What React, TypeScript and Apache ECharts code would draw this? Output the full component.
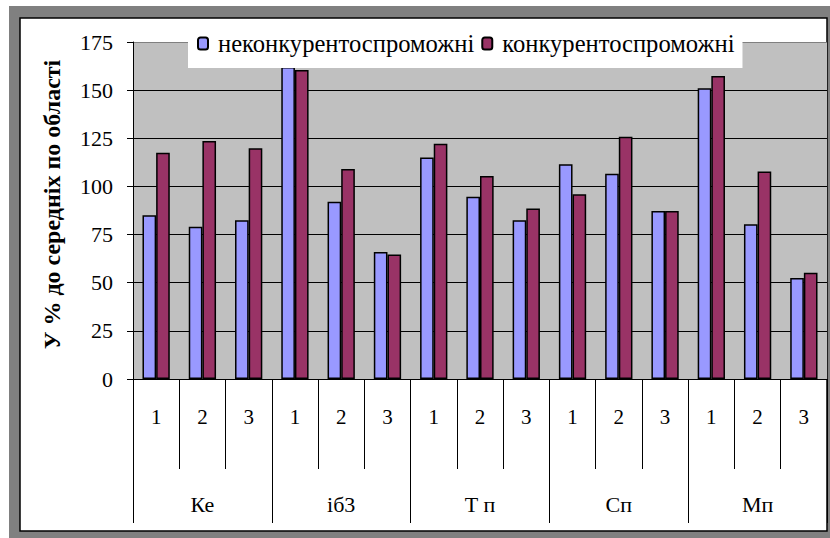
import React, { useEffect, useRef } from "react";
import * as echarts from "echarts";

const groups = ["Ке", "іб3", "Т п", "Сп", "Мп"];
const subLabels = ["1", "2", "3"];
const nonCompetitive = [85, 79, 82.5, 162, 92, 66, 115, 94.7, 82.5, 111.5, 106.6, 87.2, 151, 80.3, 52.4];
const competitive = [117.5, 123.6, 119.8, 160.5, 109, 64.6, 122.2, 105.4, 88.6, 95.9, 125.8, 87.2, 157.3, 107.8, 55.2];
const seriesNames = ["неконкурентоспроможні", "конкурентоспроможні"];
const yTitle = "У % до середніх по області";

const FONT = "Liberation Serif";

export default function App() {
  const ref = useRef<HTMLDivElement>(null);
  useEffect(() => {
    if (!ref.current) return;
    const chart = echarts.init(ref.current, undefined, { renderer: "svg" });
    const cats: string[] = [];
    groups.forEach((g) => subLabels.forEach((s) => cats.push(g + "|" + s)));
    chart.setOption({
      animation: false,
      graphic: [
        { type: "rect", z: -10, silent: true, shape: { x: 9, y: 6, width: 821, height: 532 }, style: { fill: "#808080" } },
        { type: "rect", z: -9, silent: true, shape: { x: 20, y: 18, width: 807, height: 513 }, style: { fill: "#fff", stroke: "#000", lineWidth: 1.5 } },
      ],
      legend: {
        left: 188,
        top: 19,
        padding: [12, 8, 12, 9],
        backgroundColor: "#fff",
        itemWidth: 10,
        itemHeight: 12,
        itemGap: 7,
        textStyle: { fontFamily: FONT, fontSize: 24.6, color: "#000", padding: [0, 0, 0, 5] },
        data: seriesNames,
      },
      grid: {
        left: 133,
        right: 3,
        top: 42,
        bottom: 159,
        show: true,
        backgroundColor: "#C0C0C0",
        borderWidth: 0,
      },
      xAxis: [
        {
          type: "category",
          data: cats,
          position: "bottom",
          axisLine: { show: true, lineStyle: { color: "#000", width: 1 } },
          axisTick: { show: true, length: 90, lineStyle: { color: "#000", width: 1 } },
          axisLabel: {
            interval: 0,
            margin: 27,
            fontFamily: FONT,
            fontSize: 21,
            lineHeight: 22,
            color: "#000",
            formatter: (v: string) => v.split("|")[1],
          },
          splitLine: { show: false },
        },
        {
          type: "category",
          data: groups,
          position: "bottom",
          axisLine: { show: false },
          axisTick: { show: true, length: 144, lineStyle: { color: "#000", width: 1 } },
          axisLabel: { interval: 0, margin: 114, fontFamily: FONT, fontSize: 22, lineHeight: 22, color: "#000" },
          splitLine: { show: false },
        },
      ],
      yAxis: {
        type: "value",
        min: 0,
        max: 175,
        interval: 25,
        name: yTitle,
        nameLocation: "middle",
        nameRotate: 90,
        nameGap: 69,
        nameMoveOverlap: false,
        nameTextStyle: { fontFamily: FONT, fontSize: 24, fontWeight: "bold", color: "#000", padding: [0, 0, 0, 12] },
        axisLine: { show: true, lineStyle: { color: "#000", width: 1 } },
        axisTick: { show: true, length: 6, lineStyle: { color: "#000" } },
        axisLabel: { margin: 20, fontFamily: FONT, fontSize: 22, color: "#000" },
        splitLine: {
          show: true,
          lineStyle: { color: ["#000", "#000", "#000", "#000", "#000", "#000", "#000", "#808080"], width: 1 },
        },
      },
      series: [
        {
          name: seriesNames[0],
          type: "bar",
          data: nonCompetitive,
          barGap: "0%",
          barCategoryGap: "41%",
          itemStyle: { color: "#9999FF", borderColor: "#000", borderWidth: 1.5 },
        },
        {
          name: seriesNames[1],
          type: "bar",
          data: competitive,
          barGap: "0%",
          barCategoryGap: "41%",
          itemStyle: { color: "#993366", borderColor: "#000", borderWidth: 1.5 },
        },
      ],
    });
    return () => chart.dispose();
  }, []);
  return <div ref={ref} style={{ position: "absolute", left: 0, top: 0, width: 830, height: 538 }} />;
}
